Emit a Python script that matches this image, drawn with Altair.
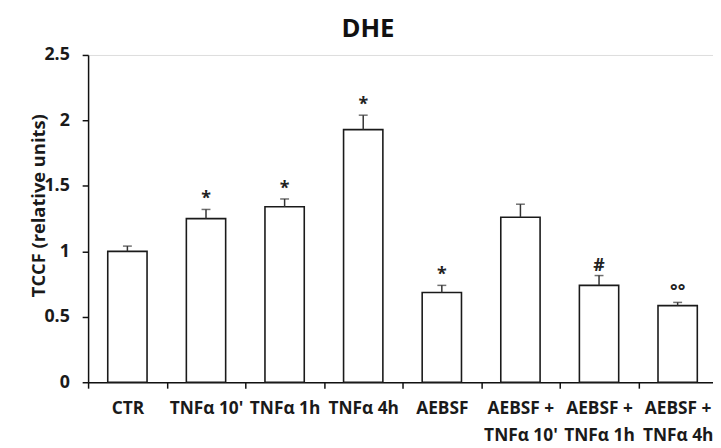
import altair as alt
import pandas as pd

categories = ["CTR", "TNFα 10'", "TNFα 1h", "TNFα 4h", "AEBSF",
              "AEBSF +\nTNFα 10'", "AEBSF +\nTNFα 1h", "AEBSF +\nTNFα 4h"]
values = [1.00, 1.25, 1.34, 1.93, 0.685, 1.26, 0.74, 0.585]
errors = [0.04, 0.07, 0.06, 0.11, 0.055, 0.10, 0.075, 0.025]
signif = ["", "*", "*", "*", "*", "", "#", "°°"]
y_ticks = [0, 0.5, 1, 1.5, 2, 2.5]

df = pd.DataFrame({
    "cat": categories,
    "val": values,
    "err": errors,
    "sig": signif,
})
df["top"] = df["val"] + df["err"]

FONT = "Open Sans"
STEP = 79.5
N = len(categories)

xscale = alt.Scale(domain=categories, range=[0, STEP * N], paddingInner=0.5, paddingOuter=0.25)
yscale = alt.Scale(domain=[0, 2.5], nice=False, zero=True)

x_enc = alt.X("cat:N", sort=categories, scale=xscale,
              axis=alt.Axis(title=None, labelAngle=0, labelFont=FONT, labelFontSize=17.5,
                            labelFontWeight="bold", labelColor="#1a1a1a",
                            labelExpr="split(datum.label, '\\n')", labelLineHeight=27,
                            labelOverlap=False, labelPadding=12,
                            tickOffset=-STEP / 2, labelOffset=STEP / 2,
                            tickSize=6, tickColor="#111", tickWidth=1.5,
                            domainColor="#111", domainWidth=1.5, grid=False))

y_enc = alt.Y("val:Q", scale=yscale,
              axis=alt.Axis(title="TCCF (relative units)", values=y_ticks, format="~g",
                            labelFont=FONT, labelFontSize=18, labelFontWeight="bold",
                            labelColor="#1a1a1a", labelPadding=13,
                            tickSize=6, tickColor="#111", tickWidth=1.5,
                            domainColor="#111", domainWidth=1.5, grid=False,
                            titleFont=FONT, titleFontSize=18.5, titleFontWeight="bold",
                            titleColor="#1a1a1a", titleAngle=270, titleAlign="center",
                            titleBaseline="middle", titleX=-50, titleY=152))

base = alt.Chart(df)

bars = base.mark_bar(fill="white", stroke="#1a1a1a", strokeWidth=1.6).encode(x=x_enc, y=y_enc)

err_line = base.mark_rule(color="#333", strokeWidth=1.5).encode(
    x=alt.X("cat:N", sort=categories, scale=xscale),
    y=alt.Y("val:Q", scale=yscale),
    y2="top:Q",
)
err_cap = base.mark_tick(color="#333", thickness=1.5, size=9, orient="horizontal").encode(
    x=alt.X("cat:N", sort=categories, scale=xscale),
    y=alt.Y("top:Q", scale=yscale),
)
sig_text = base.mark_text(font=FONT, fontSize=18, fontWeight="bold", color="#222",
                          baseline="middle", dy=-10).encode(
    x=alt.X("cat:N", sort=categories, scale=xscale),
    y=alt.Y("top:Q", scale=yscale),
    text="sig:N",
)

chart = alt.layer(bars, err_line, err_cap, sig_text).properties(
    width=632,
    height=331,
    title=alt.TitleParams("DHE", font=FONT, fontSize=26, fontWeight="bold", color="#111",
                          anchor="middle", dx=-33, offset=4),
    autosize=alt.AutoSizeParams(type="none"),
    padding={"left": 81, "top": 45, "right": 0, "bottom": 64},
).configure_view(stroke=None).configure(background="white")

chart.save("out.html", embed_options={"renderer": "svg", "actions": False})
